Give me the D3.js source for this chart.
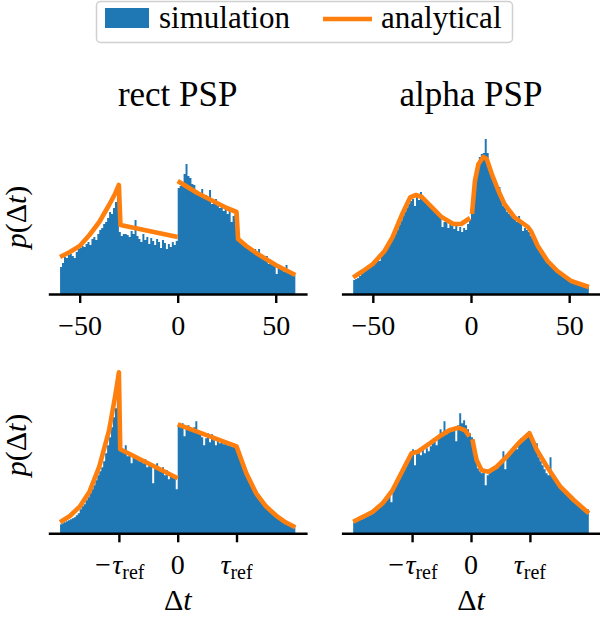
<!DOCTYPE html>
<html><head><meta charset="utf-8">
<script src="https://cdn.jsdelivr.net/npm/d3@7"></script>
<style>body{margin:0;background:#fff}svg{display:block}</style>
</head><body><svg id="c" width="600" height="619"></svg>
<script>
// ---------- data ----------
const binStart = -60, binWidth = 1;
const panelTitles = ["rect PSP", "alpha PSP"];
const topTicks = [-50, 0, 50];
const bottomTicks = [-30, 0, 30];
const bottomTickLabels = [["−τ","ref"],["0",""],["τ","ref"]];
const legendLabels = ["simulation", "analytical"];

// histogram heights (arbitrary density units), 120 bins from -60 to 60
const histRectTop = [
 27,31,37,36,39,40,38,36,42,45, 46,48,47,50,52,49,55,57,54,60,
 64,66,70,72,76,82,80,86,92,99, 62,58,60,60,59,57,63,60,74,58,
 55,52,60,54,57,50,56,53,49,55, 52,46,54,51,45,50,47,52,49,53,
 106,108,112,120,130,118,116,110,109,104, 100,98,105,96,99,94,104,90,92,95,
 88,86,90,83,85,80,83,72,78,80, 62,54,52,50,48,46,47,43,42,45,
 40,45,38,36,35,38,30,33,31,29, 20,28,25,24,22,29,21,20,21,19];
const histAlphaTop = [
 14,15,16,18,20,22,24,25,27,29, 30,32,35,33,38,40,44,47,50,53,
 57,60,64,69,73,78,82,86,90,93, 95,88,98,94,102,95,92,94,91,88,
 86,84,82,78,80,67,72,73,66,70, 68,65,70,63,67,62,66,64,70,74,
 85,105,120,130,137,140,141,155,141,130, 122,118,108,104,107,94,88,86,82,80,
 78,76,74,72,78,70,63,66,64,62, 58,55,52,48,45,42,39,36,33,30,
 28,26,24,22,21,19,18,16,15,14, 13,12,11,11,10,10,9,9,9,8];
const histRectBottom = [
 9,10,11,12,13,14,15,16,18,20, 24,27,29,33,36,40,44,48,53,58,
 62,66,72,80,88,96,106,116,125,136, 86,84,82,88,77,80,70,79,76,74,
 72,75,70,74,66,71,68,50,65,70, 64,62,66,58,63,54,60,56,57,44,
 108,106,110,97,105,108,103,104,106,112, 100,102,96,88,95,100,91,99,93,88,
 95,90,94,89,92,88,91,87,90,86, 84,77,71,66,61,56,51,47,43,40,
 38,35,32,30,28,26,24,22,20,19, 17,16,15,13,12,11,10,9,8,8];
const histAlphaBottom = [
 11,12,13,14,14,15,16,17,18,19, 22,23,25,26,28,30,33,35,38,31,
 44,47,52,56,60,64,68,72,76,79, 84,68,80,82,78,84,80,85,82,87,
 90,92,88,95,104,97,112,99,101,103, 102,106,92,108,120,110,113,108,104,100,
 96,85,72,65,62,60,61,48,58,60, 62,64,66,65,70,72,82,64,75,79,
 82,85,88,84,92,95,93,98,100,102, 98,92,88,90,76,72,68,64,60,58,
 76,58,56,53,50,47,45,43,40,38, 36,34,32,30,28,27,25,24,22,24];

// analytical curves [Δt, p], negative and positive branches
const anaRectTopNeg = [[-60,37],[-55,42],[-50,48],[-45,59],[-40,72],[-35,89],[-32,100],[-30,109],[-29.2,69],[0,57]];
const anaRectTopPos = [[0,113],[5,107],[10,101],[14,97],[20,91],[25,86],[30,82],[30.8,55],[35,48],[40,41],[45,35],[50,29],[55,24],[60,19]];
const anaAlphaTopNeg = [[-60,16.6],[-55,23],[-50,30],[-44,43],[-40,56.6],[-35,80],[-31,96.6],[-28,99],[-25,97],[-20,87],[-15,77],[-9,70],[-5,70],[-0.5,76]];
const anaAlphaTopPos = [[0.5,80],[2,113],[3.8,130],[6.3,137],[8,135],[10.6,120],[14,103],[17,90],[22,77],[29,67],[30.5,63],[34,48],[39,33],[44,23],[51,13],[60,7]];
const anaRectBottomNeg = [[-60,11],[-55,17.3],[-50,26.6],[-45,41.6],[-40,66.7],[-35,103],[-32,136],[-31,148],[-30,161],[-29.3,84],[0,55]];
const anaRectBottomPos = [[0,109],[30,87],[32,76],[35,60],[40,40],[45,27],[50,18],[55,11],[60,6]];
const anaAlphaBottomNeg = [[-60,11.6],[-55,16.6],[-50,21.6],[-45,30],[-40,43],[-35,62],[-30.3,80],[-27,81.6],[-21,90],[-16,97],[-11,103],[-6.5,105.6],[-3,103],[-0.8,97]];
const anaAlphaBottomPos = [[0.7,94],[2.1,80],[2.9,73],[5.4,63],[8.9,61.6],[13.1,66.6],[18.2,76.6],[24.2,90],[29.8,100],[33.6,83],[38.7,66.6],[45.5,46.6],[52.3,33.3],[60,20]];

// ---------- drawing ----------
const svg = d3.select("#c");
const FONT = "'Liberation Serif', 'DejaVu Serif', serif";
const BLUE = "#1f77b4", ORANGE = "#ff7f0e";

const colX = [[48.3, 307.1], [341.4, 600.6]];
const rowY = [294, 533.3];

const panels = [
  {col:0,row:0,hist:histRectTop,neg:anaRectTopNeg,pos:anaRectTopPos},
  {col:1,row:0,hist:histAlphaTop,neg:anaAlphaTopNeg,pos:anaAlphaTopPos},
  {col:0,row:1,hist:histRectBottom,neg:anaRectBottomNeg,pos:anaRectBottomPos},
  {col:1,row:1,hist:histAlphaBottom,neg:anaAlphaBottomNeg,pos:anaAlphaBottomPos},
];

panels.forEach(p => {
  const x = d3.scaleLinear().domain([-66, 66]).range(colX[p.col]);
  const base = rowY[p.row];
  const y = d3.scaleLinear().domain([0, 100]).range([base, base - 100]);
  const g = svg.append("g");

  const pts = p.hist.map((v,i) => ({x0: binStart + i*binWidth, v}));
  pts.push({x0: binStart + p.hist.length*binWidth, v: p.hist[p.hist.length-1]});
  const area = d3.area().curve(d3.curveStepAfter)
    .x(d => x(d.x0)).y0(y(0)).y1(d => y(d.v));
  g.append("path").attr("d", area(pts)).attr("fill", BLUE);

  const line = d3.line().x(d => x(d[0])).y(d => y(d[1]));
  [p.neg, p.pos].forEach(seg => {
    g.append("path").attr("d", line(seg)).attr("fill","none")
      .attr("stroke", ORANGE).attr("stroke-width", 4.6)
      .attr("stroke-linejoin","round").attr("stroke-linecap","butt");
  });

  const ticks = p.row === 0 ? topTicks : bottomTicks;
  const axis = d3.axisBottom(x).tickValues(ticks).tickSize(9).tickSizeOuter(0).tickPadding(4)
    .tickFormat(p.row === 0 ? (d => d < 0 ? "−" + Math.abs(d) : String(d)) : (() => ""));
  const ag = g.append("g").attr("transform", `translate(0,${base})`).call(axis);
  ag.attr("font-family", FONT);
  ag.select(".domain").attr("stroke","#000").attr("stroke-width",2.4);
  ag.selectAll(".tick line").attr("stroke","#000").attr("stroke-width",2.4);
  ag.selectAll(".tick text").attr("font-family", FONT).attr("font-size", 28)
    .attr("fill","#000").attr("dy", null).attr("y", 41);

  if (p.row === 1) {
    bottomTicks.forEach((t, i) => {
      const [main, sub] = bottomTickLabels[i];
      const tx = g.append("text").attr("x", x(t)).attr("y", base + 41)
        .attr("text-anchor","middle").attr("font-family", FONT).attr("font-size", 28).attr("fill","#000");
      if (main === "0") { tx.text("0"); }
      else {
        tx.append("tspan").text(main).attr("font-style","italic");
        tx.append("tspan").text(sub).attr("font-size", 20).attr("dy", 5);
      }
    });
    const xl = g.append("text").attr("x", x(0)).attr("y", 610)
      .attr("text-anchor","middle").attr("font-family", FONT).attr("font-size", 30).attr("fill","#000");
    xl.append("tspan").text("Δ");
    xl.append("tspan").text("t").attr("font-style","italic");
  } else {
    g.append("text").attr("x", x(0)).attr("y", 106).attr("text-anchor","middle")
      .attr("font-family", FONT).attr("font-size", 35).attr("fill","#000").text(panelTitles[p.col]);
  }
  if (p.col === 0) {
    const cy = p.row === 0 ? 217 : 445;
    const yl = svg.append("text").attr("transform", `translate(26,${cy}) rotate(-90)`)
      .attr("text-anchor","middle").attr("font-family", FONT).attr("font-size", 30).attr("fill","#000");
    yl.append("tspan").text("p").attr("font-style","italic");
    yl.append("tspan").text("(Δ");
    yl.append("tspan").text("t").attr("font-style","italic");
    yl.append("tspan").text(")");
  }
});

// legend
const lg = svg.append("g");
lg.append("rect").attr("x",96.5).attr("y",1.5).attr("width",416).attr("height",41).attr("rx",4)
  .attr("fill","#fff").attr("stroke","#d0d0d0").attr("stroke-width",1.5);
lg.append("rect").attr("x",105).attr("y",8).attr("width",44).attr("height",20).attr("fill",BLUE);
lg.append("text").attr("x",159).attr("y",28).attr("font-family",FONT).attr("font-size",31).attr("fill","#000").text(legendLabels[0]);
lg.append("line").attr("x1",323).attr("x2",372).attr("y1",19).attr("y2",19).attr("stroke",ORANGE).attr("stroke-width",4.6);
lg.append("text").attr("x",381).attr("y",28).attr("font-family",FONT).attr("font-size",31).attr("fill","#000").text(legendLabels[1]);
</script></body></html>
